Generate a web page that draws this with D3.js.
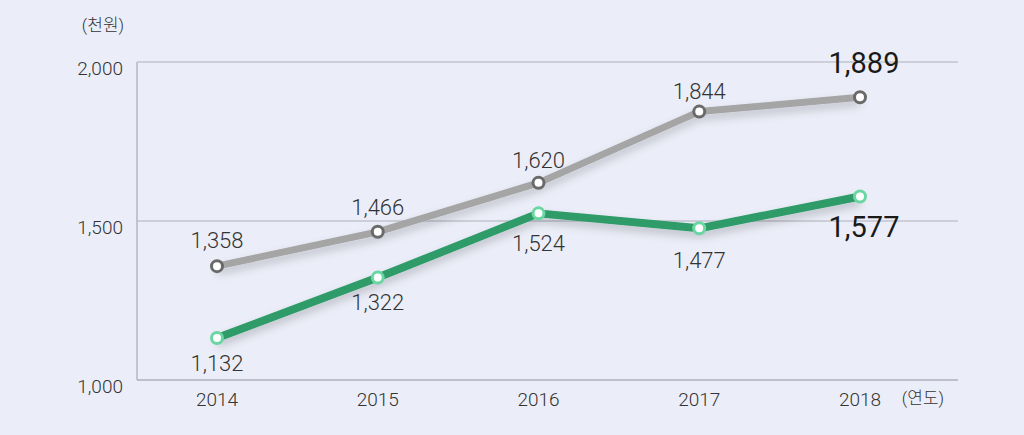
<!DOCTYPE html>
<html><head><meta charset="utf-8">
<script src="https://cdn.jsdelivr.net/npm/d3@7"></script>
<style>
html,body{margin:0;padding:0;background:#ebeef8;}
svg{display:block;font-family:Roboto,"Noto Sans CJK KR",sans-serif;}
</style></head>
<body>
<svg id="chart" width="1024" height="435"></svg>
<script>
const years = ["2014","2015","2016","2017","2018"];
const grayValues = [1358, 1466, 1620, 1844, 1889];
const greenValues = [1132, 1322, 1524, 1477, 1577];
const yTicks = [1000, 1500, 2000];
const yUnit = "(천원)";
const xUnit = "(연도)";

const svg = d3.select("#chart");
const pLeft = 137, pRight = 958, pTop = 62, pBottom = 380;
const x = d3.scalePoint().domain(years).range([217, 860]);
const y = d3.scaleLinear().domain([1000, 2000]).range([pBottom, pTop]);
const fmt = d3.format(",");

const defs = svg.append("defs");
const f = defs.append("filter").attr("id","sh").attr("x","-10%").attr("y","-30%").attr("width","120%").attr("height","180%");
f.append("feDropShadow").attr("dx",0).attr("dy",5).attr("stdDeviation",4).attr("flood-color","#000").attr("flood-opacity",0.2);

// grid
svg.append("g").selectAll("line").data(yTicks).join("line")
  .attr("x1", pLeft).attr("x2", pRight)
  .attr("y1", d=>y(d)).attr("y2", d=>y(d))
  .attr("stroke", "#aeb0b8").attr("stroke-width", d=> d===1000?1.5:1);
svg.append("line").attr("x1",pLeft).attr("x2",pLeft).attr("y1",y(2000)).attr("y2",y(1000))
  .attr("stroke","#b4b6c0").attr("stroke-width",1.5);

// y tick labels
svg.append("g").selectAll("text").data(yTicks).join("text")
  .attr("x", 123).attr("y", d=>y(d)+13).attr("text-anchor","end")
  .attr("font-size",19).attr("font-weight",300).attr("fill","#333").text(d=>fmt(d));
svg.append("text").attr("x",103).attr("y",31).attr("text-anchor","middle")
  .attr("font-size",17).attr("font-weight",300).attr("fill","#333").text(yUnit);

// x labels
svg.append("g").selectAll("text").data(years).join("text")
  .attr("x", d=>x(d)).attr("y", 406).attr("text-anchor","middle")
  .attr("font-size",19).attr("font-weight",300).attr("fill","#333").text(d=>d);
svg.append("text").attr("x",923).attr("y",404).attr("text-anchor","middle")
  .attr("font-size",17).attr("font-weight",300).attr("fill","#333").text(xUnit);

const line = d3.line().x((d,i)=>x(years[i])).y(d=>y(d));

function series(vals, color, width, ring, labelOffset) {
  const g = svg.append("g");
  g.append("path").datum(vals).attr("d", line).attr("fill","none")
    .attr("stroke", color).attr("stroke-width", width).attr("stroke-linejoin","round")
    .attr("filter","url(#sh)");
  g.selectAll("circle").data(vals).join("circle")
    .attr("cx",(d,i)=>x(years[i])).attr("cy",d=>y(d)).attr("r",5.5)
    .attr("fill", "#ffffff").attr("stroke", ring).attr("stroke-width",3);
  g.selectAll("text").data(vals).join("text")
    .attr("x",(d,i)=>x(years[i]) + (i===4 ? 4 : 0))
    .attr("y",(d,i)=> y(d) + labelOffset(i))
    .attr("text-anchor","middle")
    .attr("font-size",(d,i)=> i===4 ? 29 : 22)
    .attr("font-weight",(d,i)=> i===4 ? 400 : 300)
    .attr("fill",(d,i)=> i===4 ? "#1a1a1a" : "#333333")
    .text(d=>fmt(d));
}
series(grayValues, "#a5a5a5", 7, "#6a6a6a", i => [-18, -17, -15, -13, -24][i]);
series(greenValues, "#2e9b67", 8, "#6ad6a2", i => [33, 32, 38, 40, 40][i]);
</script>
</body></html>
